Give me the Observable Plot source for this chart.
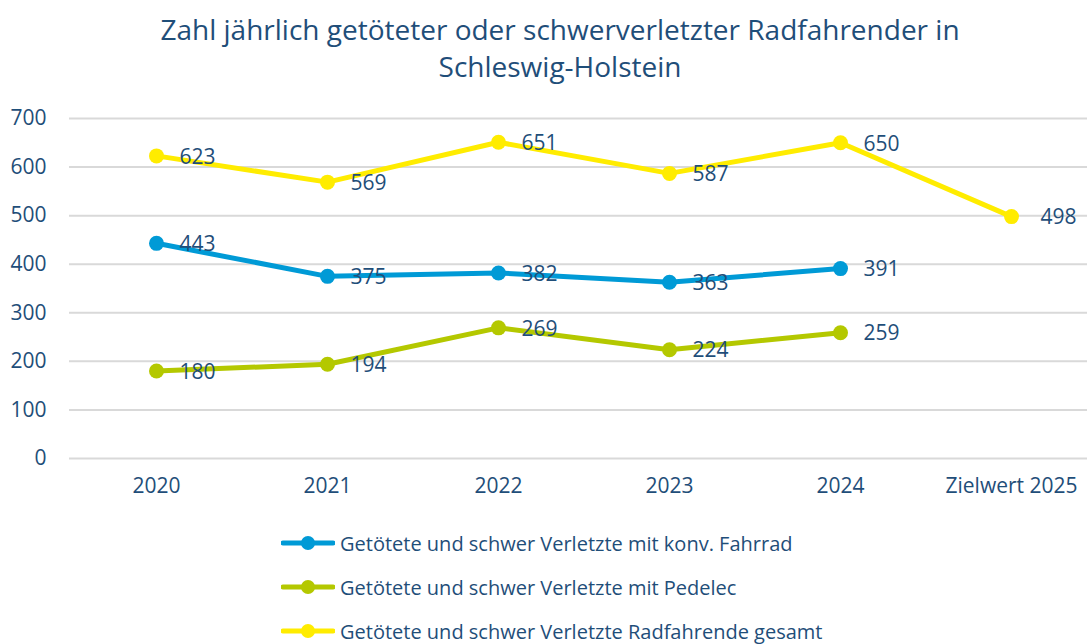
<!DOCTYPE html>
<html><head><meta charset="utf-8">
<script src="https://cdn.jsdelivr.net/npm/d3@7"></script>
<script src="https://cdn.jsdelivr.net/npm/@observablehq/plot@0.6"></script>
<style>
body{margin:0;background:#fff;font-family:"Open Sans",sans-serif;color:#1F4E79;width:1087px;height:644px;overflow:hidden}
#title{height:90px;box-sizing:border-box;padding-top:11px;text-align:center;font-size:28px;line-height:37px;color:#1F4E79;padding-left:33px}
#legend{padding-top:11px}
.row{height:44px;display:flex;align-items:center;font-size:20px;color:#1F4E79}
.row svg{margin-left:281px;margin-right:5px}
</style></head><body>
<div id="title">Zahl jährlich getöteter oder schwerverletzter Radfahrender in<br>Schleswig-Holstein</div>
<div id="chart"></div>
<div id="legend"></div>
<script>
const categories = ["2020","2021","2022","2023","2024","Zielwert 2025"];
const konvFahrrad = [443, 375, 382, 363, 391];
const pedelec = [180, 194, 269, 224, 259];
const gesamt = [623, 569, 651, 587, 650, 498];
const yTicks = [0,100,200,300,400,500,600,700];
const seriesNames = [
  "Getötete und schwer Verletzte mit konv. Fahrrad",
  "Getötete und schwer Verletzte mit Pedelec",
  "Getötete und schwer Verletzte Radfahrende gesamt"
];
const colors = ["#009AD6", "#B4C800", "#FFEC00"];
const textColor = "#1F4E79";

const data = [];
[konvFahrrad, pedelec, gesamt].forEach((arr, si) => {
  arr.forEach((v, i) => data.push({series: seriesNames[si], cat: categories[i], value: v}));
});
const font = "'Open Sans', sans-serif";

const plot = Plot.plot({
  width: 1087,
  height: 420,
  marginLeft: 69,
  marginRight: 0,
  marginTop: 28,
  marginBottom: 52,
  style: {fontFamily: font, fontSize: "21px", color: textColor, background: "white"},
  x: {type: "point", domain: categories, range: [154.5, 1012.5], padding: 0, label: null},
  y: {domain: [0, 700], ticks: yTicks, label: null},
  color: {domain: seriesNames, range: colors},
  marks: [
    Plot.ruleY(yTicks, {stroke: "#D9D9D9", strokeWidth: 2}),
    Plot.axisY({ticks: yTicks, tickSize: 0, tickPadding: 23, label: null, fontSize: 21, fill: textColor}),
    Plot.axisX({tickSize: 0, tickPadding: 20, label: null, fontSize: 21, fill: textColor}),
    Plot.line(data, {x: "cat", y: "value", z: "series", stroke: "series", strokeWidth: 5, strokeLinejoin: "round"}),
    Plot.dot(data, {x: "cat", y: "value", fill: "series", r: 7.5}),
    Plot.text(data.filter(d => d.cat !== "Zielwert 2025"), {x: "cat", y: "value", text: d => String(d.value), textAnchor: "start", dx: 23, dy: 1, fill: textColor, fontSize: 21}),
    Plot.text(data.filter(d => d.cat === "Zielwert 2025"), {x: "cat", y: "value", text: d => String(d.value), textAnchor: "start", dx: 29, dy: 1, fill: textColor, fontSize: 21})
  ]
});
document.getElementById("chart").appendChild(plot);

const legend = document.getElementById("legend");
seriesNames.forEach((name, i) => {
  const row = document.createElement("div");
  row.className = "row";
  row.innerHTML = `<svg width="54" height="16"><line x1="2" y1="8" x2="52" y2="8" stroke="${colors[i]}" stroke-width="5" stroke-linecap="round"/><circle cx="27" cy="8" r="7" fill="${colors[i]}"/></svg><span>${name}</span>`;
  legend.appendChild(row);
});
</script>
</body></html>
